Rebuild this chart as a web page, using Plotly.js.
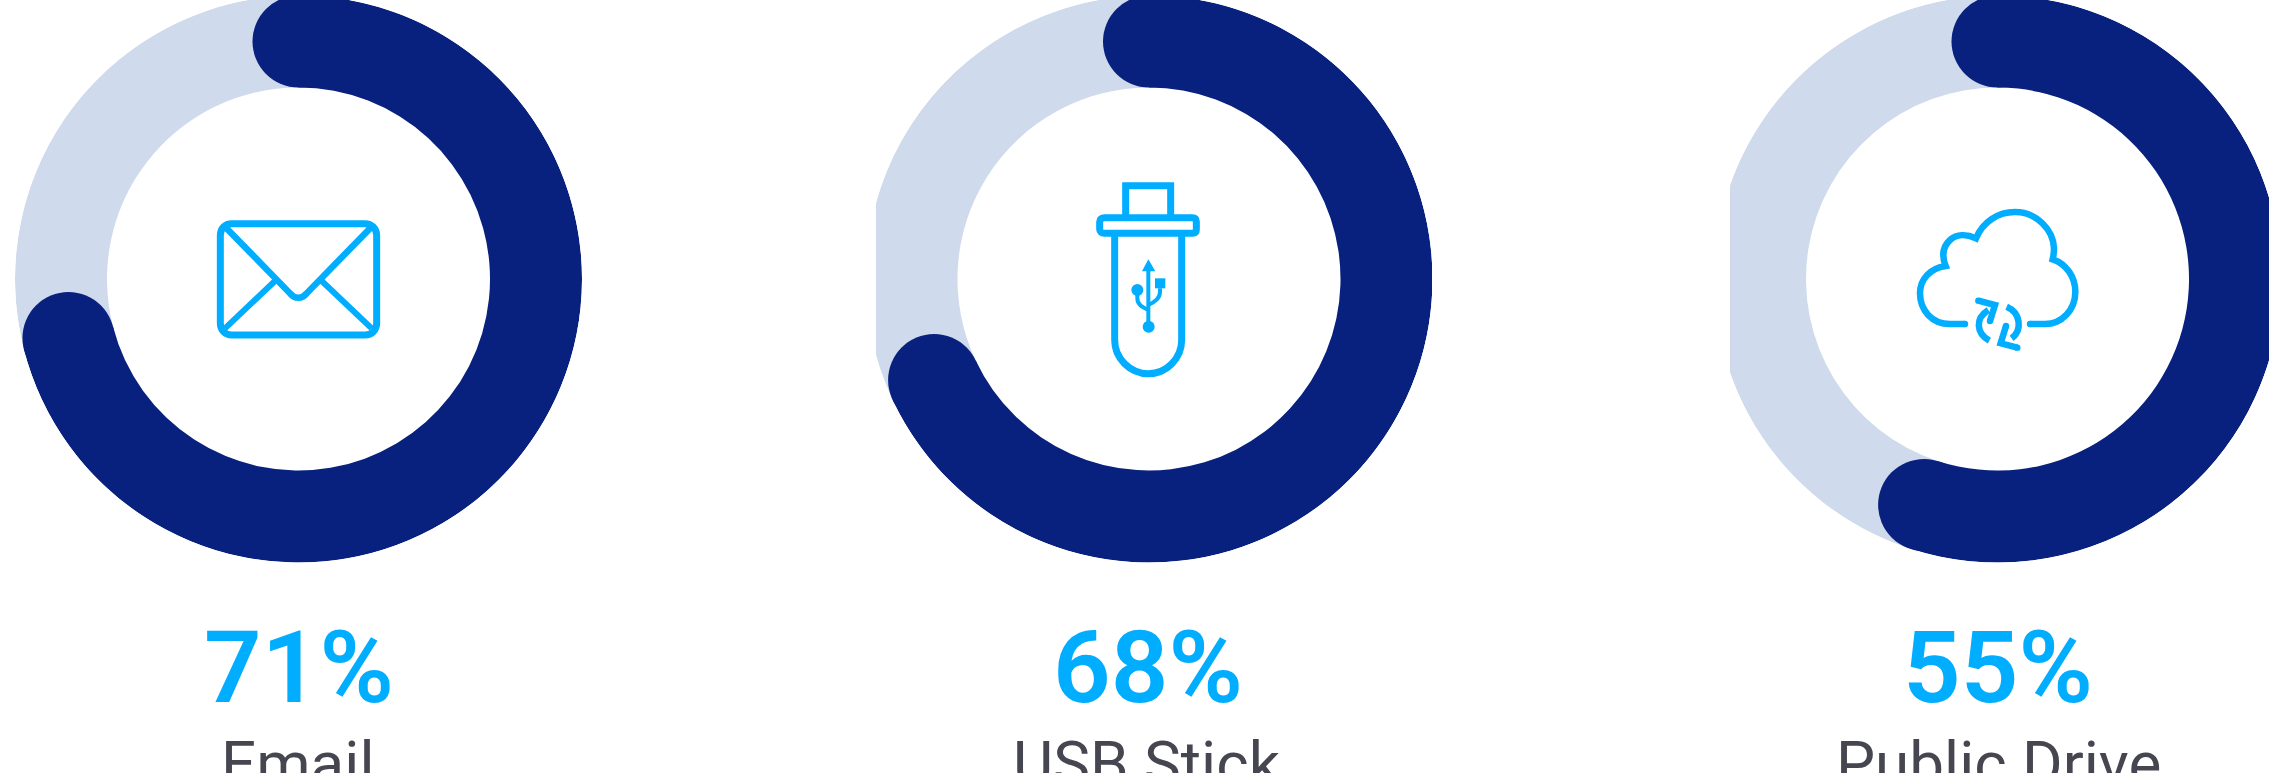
<!DOCTYPE html>
<html>
<head>
<meta charset="utf-8">
<script src="https://cdn.plot.ly/plotly-3.0.1.min.js"></script>
<style>
html,body{margin:0;padding:0;width:2269px;height:773px;overflow:hidden;background:#fff}
#chart{position:absolute;left:0;top:-10px;width:2300px;height:840px}
</style>
</head>
<body>
<div id="chart"></div>
<script>
const categories = ["Email", "USB Stick", "Public Drive"];
const shares = [71, 68, 55];
const percentLabels = ["71%", "68%", "55%"];

const W = 2300, H = 840, OFFY = 10;
const DARK = "#08207E", LIGHT = "#CFDBEC", CYAN = "#00ADFF", GREY = "#45464F";
const R_OUT = 283.5, R_IN = 191.5, R_MID = (R_OUT + R_IN) / 2, THICK = R_OUT - R_IN;
const centers = [[298.5, 279], [1149, 279], [1997.5, 279]];
const pctX = [299, 1148, 1998], labelX = [298, 1147, 1998];

const px = x => x / W, py = y => 1 - (y + OFFY) / H;

const traces = [], layout = {
  width: W, height: H, margin: {l: 0, r: 0, t: 0, b: 0, pad: 0}, showlegend: false,
  paper_bgcolor: "#fff", hovermode: false, shapes: [], annotations: [], dragmode: false
};

categories.forEach((cat, i) => {
  const v = shares[i], sub = i ? "polar" + (i + 1) : "polar";
  const [cx, cy] = centers[i];
  layout[sub] = {
    domain: {x: [px(cx - R_OUT), px(cx + R_OUT)], y: [py(cy + R_OUT), py(cy - R_OUT)]},
    bgcolor: "rgba(0,0,0,0)", barmode: "overlay",
    radialaxis: {visible: false, range: [0, R_OUT]},
    angularaxis: {visible: false, rotation: 90, direction: "clockwise", thetaunit: "degrees"}
  };
  const deg = p => p * 3.6;
  traces.push({type: "barpolar", subplot: sub, name: cat + " rest", r: [THICK], base: [R_IN],
    theta: [deg(v + (100 - v) / 2)], width: [deg(100 - v)], marker: {color: LIGHT, line: {width: 0}}});
  traces.push({type: "barpolar", subplot: sub, name: cat, r: [THICK], base: [R_IN],
    theta: [deg(v / 2)], width: [deg(v)], marker: {color: DARK, line: {width: 0}}});
  traces.push({type: "scatterpolar", subplot: sub, mode: "markers", cliponaxis: false, name: cat + " caps",
    r: [R_MID, R_MID], theta: [0, deg(v)], marker: {size: THICK, color: DARK, line: {width: 0}}});

  layout.annotations.push({xref: "paper", yref: "paper", x: px(pctX[i]), y: py(728), xanchor: "center", yanchor: "bottom",
    text: percentLabels[i], showarrow: false, font: {family: "Roboto", size: 101, color: CYAN, weight: 600}, borderpad: 0});
  layout.annotations.push({xref: "paper", yref: "paper", x: px(labelX[i]), y: py(801), xanchor: "center", yanchor: "bottom",
    text: cat, showarrow: false, font: {family: "Roboto", size: 62, color: GREY, weight: 400}, borderpad: 0});
});

// white masks that crop the light rings of the 2nd and 3rd panels
function mask(x0, x1) {
  layout.shapes.push({type: "rect", xref: "paper", yref: "paper", layer: "above",
    x0: px(x0), x1: px(x1), y0: 0, y1: 1, fillcolor: "#fff", line: {width: 0}});
}
mask(583, 876); mask(1432, 1730);

// icon drawing helpers: paths given in crop coordinates (origin + 1/scale)
function iconPath(d, ox, oy, s, width, fill) {
  let axis = 0;
  const out = d.replace(/[A-Za-z]|-?\d+(\.\d+)?/g, t => {
    if (/[A-Za-z]/.test(t)) { axis = 0; return t; }
    const n = parseFloat(t);
    const val = axis++ % 2 === 0 ? px(ox + n / s) : py(oy + n / s);
    return val.toFixed(6);
  });
  layout.shapes.push({type: "path", xref: "paper", yref: "paper", layer: "above", path: out,
    fillcolor: fill ? CYAN : "rgba(0,0,0,0)", line: {color: CYAN, width: width}});
}
function dot(x, y, r, ox, oy, s) {
  const X = ox + x / s, Y = oy + y / s;
  layout.shapes.push({type: "circle", xref: "paper", yref: "paper", layer: "above",
    x0: px(X - r), x1: px(X + r), y0: py(Y + r), y1: py(Y - r), fillcolor: CYAN, line: {width: 0}});
}

// envelope
{
  const o = [190, 190, 3];
  iconPath("M125,101 L525,101 C545,101 560,116 560,136 L560,400 C560,420 545,435 525,435 L125,435 C105,435 91,420 91,400 L91,136 C91,116 105,101 125,101 Z", ...o, 7);
  iconPath("M105,110 L300,310 C315,328 335,328 350,310 L545,110", ...o, 6.5);
  iconPath("M258,270 L105,415", ...o, 6);
  iconPath("M392,270 L545,415", ...o, 6);
}
// usb stick
{
  const o = [1060, 170, 3];
  iconPath("M197,140 L197,47 L332,47 L332,140", ...o, 7);
  iconPath("M133,143 L397,143 C405,143 409,147 409,155 L409,178 C409,186 405,190 397,190 L133,190 C125,190 119,186 119,178 L119,155 C119,147 125,143 133,143 Z", ...o, 7);
  iconPath("M164,195 L164,510 C164,565 210,611 265,611 C320,611 365,565 365,510 L365,195", ...o, 7);
  iconPath("M265,300 L265,470", ...o, 4);
  iconPath("M265,268 L286,304 L246,304 Z", ...o, 0, true);
  iconPath("M285,325 L316,325 L316,355 L285,355 Z", ...o, 0, true);
  iconPath("M232,370 L232,385 C232,405 248,412 265,420", ...o, 4);
  iconPath("M300,355 L300,365 C300,385 285,395 265,405", ...o, 4);
  dot(232, 360, 6, ...o);
  dot(266, 470, 6, ...o);
}
// cloud
{
  const o = [1900, 190, 3];
  iconPath("M195,402 L150,402 C95,402 60,360 60,310 C60,265 92,235 137,228 C124,195 128,170 150,150 C170,132 200,132 228,145 C248,95 295,66 345,66 C410,66 460,120 462,175 C462,190 460,200 458,208 C500,222 526,262 526,305 C526,360 485,402 435,402 L390,402", ...o, 6.5);
  dot(195, 402, 3.2, ...o); dot(390, 402, 3.2, ...o);
  iconPath("M235,332 L285,345 L270,393", ...o, 6.5);
  iconPath("M265,360 C225,385 228,430 268,452", ...o, 6.5);
  iconPath("M352,473 L302,460 L318,408", ...o, 6.5);
  iconPath("M320,350 C362,368 368,420 335,445", ...o, 6.5);
  dot(235, 332, 3.2, ...o); dot(270, 393, 3.2, ...o); dot(352, 473, 3.2, ...o); dot(318, 408, 3.2, ...o);
}

Plotly.newPlot("chart", traces, layout, {displayModeBar: false, staticPlot: true});
</script>
</body>
</html>
